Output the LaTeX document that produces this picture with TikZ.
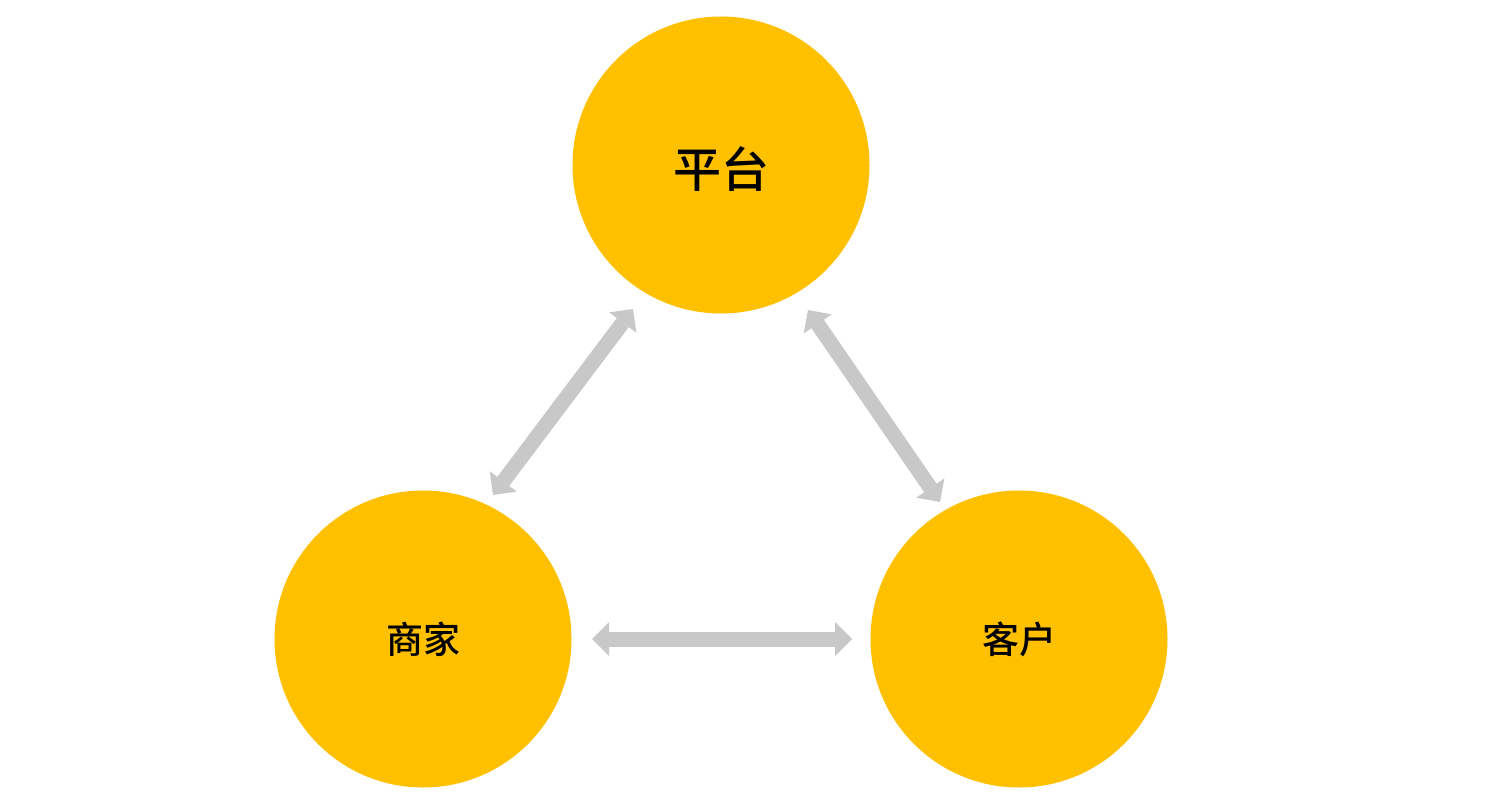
\documentclass[tikz,border=0pt]{standalone}
\usepackage{fontspec}
\newfontfamily\cjk{Noto Sans CJK SC Medium}
\usetikzlibrary{arrows.meta}

\definecolor{gold}{HTML}{FFC000}
\definecolor{arrowgray}{HTML}{C8C8C8}

\tikzset{
  role/.style={circle,fill=gold,minimum size=297pt,inner sep=0pt,font=\cjk},
  link/.style={
    color=arrowgray,
    line width=15pt,
    {Triangle[width=34pt,length=17pt,line width=0pt]}-{Triangle[width=34pt,length=17pt,line width=0pt]}
  },
}

\begin{document}
\begin{tikzpicture}[x=1pt,y=-1pt]
\useasboundingbox (0,0) rectangle (1491,800);

\node[role,font=\cjk\fontsize{48}{52}\selectfont](platform) at (721,165) {\raisebox{-4pt}[\height][\depth]{平台}};
\node[role,font=\cjk\fontsize{37}{40}\selectfont](merchant) at (423,639) {商家};
\node[role,font=\cjk\fontsize{37}{40}\selectfont](customer) at (1019,639) {客户};

% arrow ends
\coordinate (pm) at (633,309);
\coordinate (mp) at (493,495);
\coordinate (pc) at (808,310);
\coordinate (cp) at (940,502);
\coordinate (mc) at (592,639);
\coordinate (cm) at (852,639);

\path[link]
  (mp) edge (pm)
  (pc) edge (cp)
  (mc) edge (cm)
  ;

\end{tikzpicture}
\end{document}
